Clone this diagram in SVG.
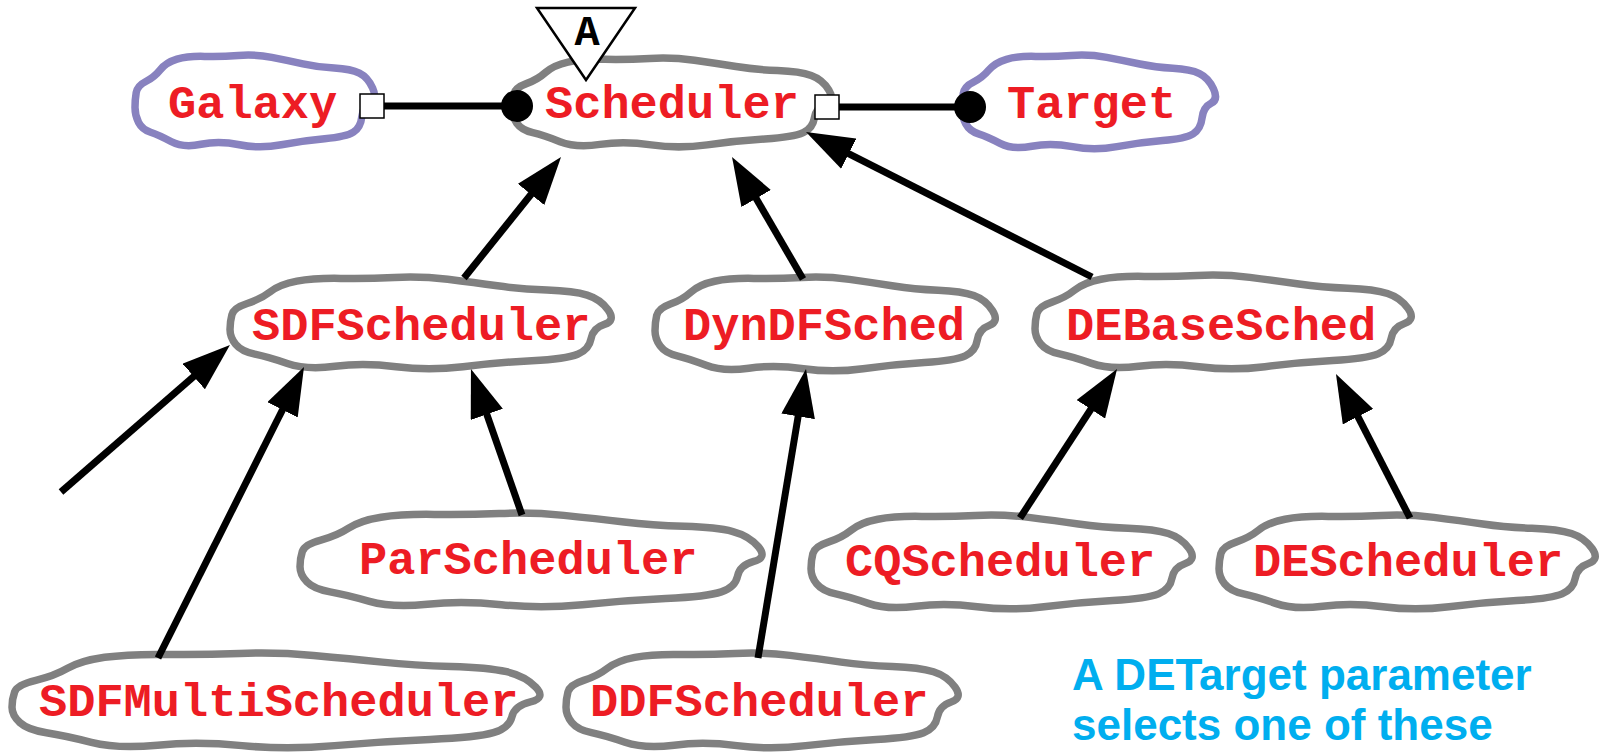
<svg xmlns="http://www.w3.org/2000/svg" xmlns:xlink="http://www.w3.org/1999/xlink" width="1600" height="754" viewBox="0 0 1600 754">
<style>
.cl{fill:#fff;stroke-width:7.5;stroke-linejoin:round}
.gray{stroke:#808080}
.purp{stroke:#8882bf}
.lbl{font-family:"Liberation Mono","Courier New",monospace;font-weight:bold;font-size:47px;fill:#ed1c24}
.edge{stroke:#000;stroke-width:7;fill:none;marker-end:url(#ah)}
.port{stroke:#000;stroke-width:7;fill:none}
.note{font-family:"Liberation Sans",Arial,sans-serif;font-weight:bold;font-size:44px;fill:#00aeef}
</style>
<defs>
<path id="cloud" vector-effect="non-scaling-stroke" d="M0,56.5 Q0,48 0.5,40.5 Q1,33 4.5,28.5 Q8,24 10.5,16 Q13,8 17.5,4.5 Q22,1 29,1.5 Q36,2 43,0.5 Q50,-1 57,2.5 Q64,6 70,9.5 Q76,13 83,14 Q90,15 93.5,19.5 Q97,24 99,35.5 Q101,47 98,51 Q95,55 94.5,66.5 Q94,78 91,83 Q88,88 79,90 Q70,92 61,96.5 Q52,101 43.5,96.5 Q35,92 27.5,96 Q20,100 15,93 Q10,86 6.5,83 Q3,80 1.5,72.5 Q0,65 0,56.5 Z"/>
<marker id="ah" viewBox="0 0 48 34" refX="23" refY="17" markerWidth="48" markerHeight="34" markerUnits="userSpaceOnUse" orient="auto">
<path d="M0,0 L48,17 L0,34 Z" fill="#000"/>
</marker>
</defs>

<g id="node-galaxy">
<use xlink:href="#cloud" href="#cloud" class="cl purp" transform="translate(135,55) scale(2.40,0.93)"/>
<text class="lbl" x="168" y="118">Galaxy</text>
</g>
<g id="node-scheduler">
<use xlink:href="#cloud" href="#cloud" class="cl gray" transform="translate(512,58) scale(3.20,0.90)"/>
<polygon points="537,8 635,8 586,80" fill="#fff" stroke="#000" stroke-width="2.5" stroke-linejoin="miter"/>
<text class="lbl" x="587" y="45" text-anchor="middle" style="fill:#000;font-size:42px">A</text>
<text class="lbl" x="545" y="118">Scheduler</text>
</g>
<g id="node-target">
<use xlink:href="#cloud" href="#cloud" class="cl purp" transform="translate(962,55) scale(2.54,0.95)"/>
<text class="lbl" x="1007" y="118">Target</text>
</g>
<g id="node-sdfscheduler">
<use xlink:href="#cloud" href="#cloud" class="cl gray" transform="translate(230,277) scale(3.82,0.93)"/>
<text class="lbl" x="252" y="340">SDFScheduler</text>
</g>
<g id="node-dyndfsched">
<use xlink:href="#cloud" href="#cloud" class="cl gray" transform="translate(655,277) scale(3.41,0.95)"/>
<text class="lbl" x="683" y="340">DynDFSched</text>
</g>
<g id="node-debasesched">
<use xlink:href="#cloud" href="#cloud" class="cl gray" transform="translate(1035,275) scale(3.77,0.95)"/>
<text class="lbl" x="1066" y="340">DEBaseSched</text>
</g>
<g id="node-parscheduler">
<use xlink:href="#cloud" href="#cloud" class="cl gray" transform="translate(300,513) scale(4.63,0.95)"/>
<text class="lbl" x="359" y="574">ParScheduler</text>
</g>
<g id="node-cqscheduler">
<use xlink:href="#cloud" href="#cloud" class="cl gray" transform="translate(811,515) scale(3.82,0.95)"/>
<text class="lbl" x="845" y="576">CQScheduler</text>
</g>
<g id="node-descheduler">
<use xlink:href="#cloud" href="#cloud" class="cl gray" transform="translate(1219,515) scale(3.77,0.95)"/>
<text class="lbl" x="1253" y="576">DEScheduler</text>
</g>
<g id="node-sdfmultischeduler">
<use xlink:href="#cloud" href="#cloud" class="cl gray" transform="translate(12,653) scale(5.29,0.96)"/>
<text class="lbl" x="39" y="716">SDFMultiScheduler</text>
</g>
<g id="node-ddfscheduler">
<use xlink:href="#cloud" href="#cloud" class="cl gray" transform="translate(566,653) scale(3.93,0.96)"/>
<text class="lbl" x="590" y="716">DDFScheduler</text>
</g>

<g id="connectors">
<line class="edge" x1="464" y1="278" x2="545.4" y2="176.5"/>
<line class="edge" x1="803" y1="279" x2="744.6" y2="178.6"/>
<line class="edge" x1="1092" y1="277" x2="828.3" y2="143.3"/>
<line class="edge" x1="61" y1="492" x2="211.1" y2="361.4"/>
<line class="edge" x1="158" y1="658" x2="292.8" y2="389.3"/>
<line class="edge" x1="522" y1="515" x2="479.2" y2="392.6"/>
<line class="edge" x1="758" y1="658" x2="801.9" y2="393.7"/>
<line class="edge" x1="1020" y1="518" x2="1103.4" y2="390"/>
<line class="edge" x1="1410" y1="518" x2="1347.4" y2="396.2"/>
<line class="port" x1="384" y1="106" x2="517" y2="106"/>
<line class="port" x1="839" y1="107" x2="970" y2="107"/>
<rect x="360" y="94" width="24" height="24" fill="#fff" stroke="#000" stroke-width="1.5"/>
<circle cx="517" cy="106" r="16" fill="#000"/>
<rect x="815" y="95" width="24" height="24" fill="#fff" stroke="#000" stroke-width="1.5"/>
<circle cx="970" cy="107" r="16" fill="#000"/>
</g>

<g id="note">
<text class="note" x="1072" y="690">A DETarget parameter</text>
<text class="note" x="1072" y="740">selects one of these</text>
</g>
</svg>
